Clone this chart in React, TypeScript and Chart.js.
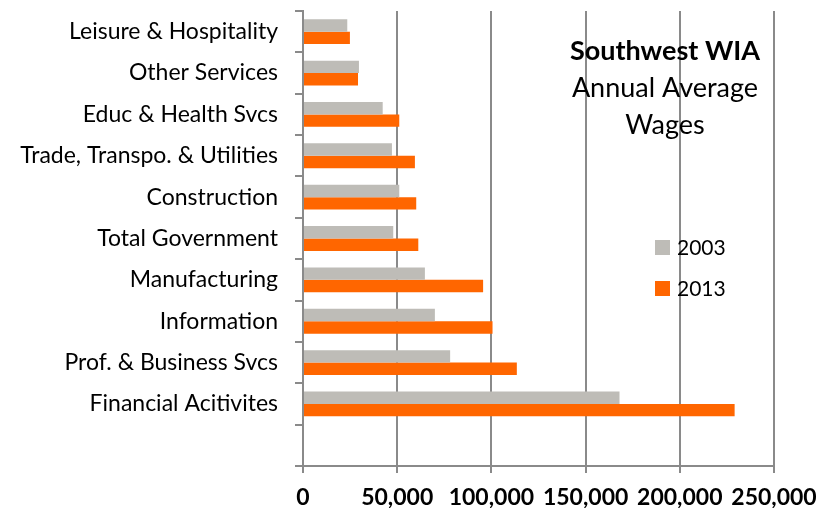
import React, { useEffect, useRef } from "react";
import { Chart, registerables } from "chart.js";

Chart.register(...registerables);

const categories = [
  "Leisure & Hospitality",
  "Other Services",
  "Educ & Health Svcs",
  "Trade, Transpo. & Utilities",
  "Construction",
  "Total Government",
  "Manufacturing",
  "Information",
  "Prof. & Business Svcs",
  "Financial Acitivites",
  "",
];

const wages2003 = [23500, 29700, 42300, 47200, 51100, 47900, 64700, 70000, 78100, 168000, null];
const wages2013 = [24900, 29200, 51100, 59400, 60100, 61200, 95600, 100600, 113500, 229100, null];

const seriesLabels = ["2003", "2013"];
const titleLines = ["Southwest WIA", "Annual Average", "Wages"];

const GRAY = "#BEBCB7";
const ORANGE = "#FF6600";
const AXIS = "#8a8a8a";
const FONT = "Lato, 'Open Sans', sans-serif";

const overlayPlugin = {
  id: "overlay",
  afterDraw(chart: any) {
    const ctx = chart.ctx;
    ctx.save();
    ctx.fillStyle = "#000";
    ctx.textAlign = "center";
    ctx.textBaseline = "alphabetic";
    ctx.font = `bold 27px ${FONT}`;
    ctx.fillText(titleLines[0], 665, 60);
    ctx.font = `27px ${FONT}`;
    ctx.fillText(titleLines[1], 665, 97);
    ctx.fillText(titleLines[2], 665, 134);

    const ds = chart.data.datasets;
    const ys = [240, 281];
    ds.forEach((d: any, i: number) => {
      ctx.fillStyle = d.backgroundColor;
      ctx.fillRect(655, ys[i], 15, 15);
      ctx.fillStyle = "#000";
      ctx.textAlign = "left";
      ctx.font = `21px ${FONT}`;
      ctx.fillText(d.label, 677, ys[i] + 15);
    });
    ctx.restore();
  },
};

export default function App() {
  const ref = useRef<HTMLCanvasElement | null>(null);

  useEffect(() => {
    document.body.style.margin = "0";
    const chart = new Chart(ref.current as HTMLCanvasElement, {
      type: "bar",
      data: {
        labels: categories,
        datasets: [
          {
            label: seriesLabels[0],
            data: wages2003,
            backgroundColor: GRAY,
            categoryPercentage: 0.6,
            barPercentage: 1.0,
          },
          {
            label: seriesLabels[1],
            data: wages2013,
            backgroundColor: ORANGE,
            categoryPercentage: 0.6,
            barPercentage: 1.0,
          },
        ],
      },
      options: {
        indexAxis: "y",
        animation: false,
        responsive: true,
        maintainAspectRatio: false,
        layout: { padding: { top: 11, right: 53, left: 0, bottom: 0 } },
        plugins: {
          legend: { display: false },
          title: { display: false },
          tooltip: { enabled: false },
        },
        scales: {
          x: {
            min: 0,
            max: 250000,
            ticks: {
              stepSize: 50000,
              color: "#000",
              font: { family: FONT, size: 23, weight: "bold" },
              padding: 11,
              maxRotation: 0,
              callback: (v: any) => Number(v).toLocaleString("en-US"),
            },
            grid: {
              color: AXIS,
              lineWidth: 2,
              tickLength: 7,
              drawTicks: true,
            },
            border: { display: true, color: AXIS, width: 2 },
            afterFit: (scale: any) => {
              scale.height = 42;
              scale.paddingLeft = 0;
              scale.paddingRight = 0;
            },
          },
          y: {
            ticks: {
              color: "#000",
              font: { family: FONT, size: 23 },
              padding: 17,
              autoSkip: false,
            },
            grid: {
              offset: true,
              drawOnChartArea: false,
              drawTicks: true,
              tickLength: 8,
              color: AXIS,
              lineWidth: 2,
            },
            border: { display: true, color: AXIS, width: 2 },
            afterFit: (scale: any) => {
              scale.width = 303;
              scale.paddingTop = 0;
              scale.paddingBottom = 0;
            },
          },
        },
      },
      plugins: [overlayPlugin],
    });
    return () => chart.destroy();
  }, []);

  return (
    <div style={{ width: 827, height: 508, position: "relative" }}>
      <canvas ref={ref} />
    </div>
  );
}
